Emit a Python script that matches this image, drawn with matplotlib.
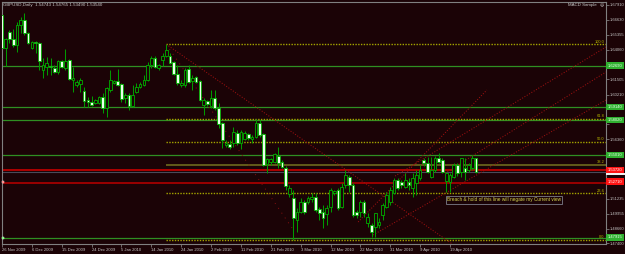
import matplotlib
matplotlib.use("Agg")
import matplotlib.pyplot as plt
from matplotlib.patches import Rectangle

# GBPUSD daily candles, 26 Nov 2009 .. end of Apr 2010
opens = [1.6705, 1.6421, 1.6559, 1.6499, 1.6447, 1.6619, 1.6662, 1.6550, 1.6421, 1.6473,
         1.6464, 1.6232, 1.6258, 1.6266, 1.6249, 1.6215, 1.6309, 1.6249, 1.6318, 1.6146,
         1.6103, 1.6112, 1.6051, 1.5974, 1.5957, 1.5948, 1.5948, 1.6000, 1.5905, 1.6060,
         1.6120, 1.6137, 1.6112, 1.5991, 1.6017, 1.5922, 1.6043, 1.6086, 1.6103, 1.6146,
         1.6275, 1.6335, 1.6249, 1.6318, 1.6352, 1.6352, 1.6301, 1.6198, 1.6103, 1.6103,
         1.6241, 1.6137, 1.6172, 1.6137, 1.5931, 1.5965, 1.5922, 1.5991, 1.5905, 1.5776,
         1.5587, 1.5596, 1.5604, 1.5690, 1.5604, 1.5639, 1.5682, 1.5639, 1.5656, 1.5776,
         1.5682, 1.5424, 1.5441, 1.5441, 1.5493, 1.5441, 1.5389, 1.5166, 1.5131, 1.4942,
         1.5011, 1.5097, 1.5097, 1.5123, 1.5140, 1.5037, 1.5011, 1.4994, 1.5054, 1.5174,
         1.5200, 1.5054, 1.5243, 1.5312, 1.5243, 1.5011, 1.5011, 1.5097, 1.4916, 1.4899,
         1.4882, 1.4899, 1.4985, 1.5054, 1.5097, 1.5174, 1.5286, 1.5269, 1.5226, 1.5269,
         1.5217, 1.5260, 1.5303, 1.5458, 1.5432, 1.5312, 1.5372, 1.5475, 1.5458, 1.5277,
         1.5269, 1.5312, 1.5415, 1.5355, 1.5389, 1.5372, 1.5389, 1.54743]
highs = [1.6722, 1.6507, 1.6576, 1.6585, 1.6645, 1.6688, 1.6722, 1.6559, 1.6481, 1.6481,
         1.6473, 1.6335, 1.6344, 1.6335, 1.6275, 1.6318, 1.6318, 1.6413, 1.6327, 1.6258,
         1.6146, 1.6163, 1.6086, 1.6000, 1.6009, 1.5983, 1.6009, 1.6034, 1.6086, 1.6232,
         1.6146, 1.6241, 1.6120, 1.6034, 1.6034, 1.6103, 1.6120, 1.6129, 1.6189, 1.6301,
         1.6352, 1.6352, 1.6284, 1.6378, 1.6453, 1.6378, 1.6309, 1.6275, 1.6146, 1.6249,
         1.6275, 1.6189, 1.6180, 1.6146, 1.5991, 1.5974, 1.6060, 1.6060, 1.5948, 1.5785,
         1.5630, 1.5630, 1.5742, 1.5716, 1.5716, 1.5707, 1.5690, 1.5673, 1.5811, 1.5802,
         1.5690, 1.5475, 1.5475, 1.5518, 1.5570, 1.5458, 1.5406, 1.5243, 1.5200, 1.5045,
         1.5131, 1.5114, 1.5148, 1.5174, 1.5174, 1.5054, 1.5071, 1.5071, 1.5217, 1.5200,
         1.5217, 1.5260, 1.5372, 1.5329, 1.5260, 1.5028, 1.5114, 1.5114, 1.5002, 1.4916,
         1.5002, 1.4959, 1.5088, 1.5183, 1.5226, 1.5303, 1.5303, 1.5286, 1.5346, 1.5303,
         1.5346, 1.5372, 1.5415, 1.5475, 1.5484, 1.5484, 1.5493, 1.5518, 1.5475, 1.5355,
         1.5346, 1.5432, 1.5432, 1.5475, 1.5475, 1.5432, 1.5501, 1.54765]
lows = [1.6404, 1.6266, 1.6464, 1.6430, 1.6387, 1.6550, 1.6533, 1.6456, 1.6413, 1.6378,
        1.6232, 1.6163, 1.6189, 1.6189, 1.6206, 1.6198, 1.6249, 1.6232, 1.6146, 1.6043,
        1.6086, 1.6043, 1.5914, 1.5914, 1.5922, 1.5940, 1.5940, 1.5862, 1.5828, 1.6043,
        1.6112, 1.6094, 1.5957, 1.5948, 1.5888, 1.5914, 1.6034, 1.6077, 1.6094, 1.6137,
        1.6249, 1.6249, 1.6232, 1.6266, 1.6344, 1.6284, 1.6189, 1.6103, 1.6086, 1.6086,
        1.6120, 1.6060, 1.6120, 1.5965, 1.5845, 1.5922, 1.5905, 1.5888, 1.5733, 1.5561,
        1.5570, 1.5553, 1.5570, 1.5587, 1.5553, 1.5630, 1.5630, 1.5604, 1.5647, 1.5656,
        1.5406, 1.5346, 1.5415, 1.5432, 1.5389, 1.5389, 1.5200, 1.5140, 1.4774, 1.4839,
        1.5002, 1.4994, 1.5080, 1.5097, 1.5011, 1.4942, 1.4873, 1.4899, 1.5011, 1.5157,
        1.5028, 1.5045, 1.5217, 1.5183, 1.4968, 1.4959, 1.4968, 1.4968, 1.4882, 1.4796,
        1.4796, 1.4873, 1.4942, 1.5045, 1.5071, 1.5166, 1.5200, 1.5217, 1.5217, 1.5200,
        1.5140, 1.5157, 1.5286, 1.5406, 1.5346, 1.5303, 1.5355, 1.5432, 1.5346, 1.5183,
        1.5183, 1.5303, 1.5320, 1.5312, 1.5286, 1.5355, 1.5372, 1.53490]
closes = [1.6421, 1.6499, 1.6499, 1.6447, 1.6619, 1.6662, 1.6550, 1.6464, 1.6473, 1.6464,
          1.6309, 1.6275, 1.6292, 1.6258, 1.6215, 1.6309, 1.6258, 1.6309, 1.6155, 1.6163,
          1.6129, 1.6146, 1.5965, 1.5957, 1.5931, 1.5974, 1.6000, 1.5905, 1.6077, 1.6146,
          1.6137, 1.6103, 1.5983, 1.6017, 1.5922, 1.6017, 1.6086, 1.6112, 1.6146, 1.6275,
          1.6335, 1.6258, 1.6275, 1.6352, 1.6404, 1.6292, 1.6198, 1.6120, 1.6120, 1.6232,
          1.6129, 1.6163, 1.6129, 1.5974, 1.5974, 1.5940, 1.5991, 1.5905, 1.5768, 1.5630,
          1.5604, 1.5570, 1.5699, 1.5604, 1.5699, 1.5690, 1.5647, 1.5656, 1.5776, 1.5673,
          1.5415, 1.5467, 1.5467, 1.5510, 1.5432, 1.5398, 1.5234, 1.5217, 1.4959, 1.5011,
          1.5097, 1.5011, 1.5131, 1.5140, 1.5028, 1.5002, 1.4959, 1.5045, 1.5200, 1.5191,
          1.5045, 1.5226, 1.5329, 1.5243, 1.4985, 1.4985, 1.5097, 1.5002, 1.4968, 1.4839,
          1.5002, 1.4925, 1.5071, 1.5157, 1.5200, 1.5286, 1.5217, 1.5243, 1.5286, 1.5243,
          1.5303, 1.5329, 1.5372, 1.5432, 1.5355, 1.5372, 1.5475, 1.5441, 1.5355, 1.5346,
          1.5329, 1.5415, 1.5346, 1.5475, 1.5355, 1.5415, 1.5475, 1.53540]

date_labels = ["26 Nov 2009", "6 Dec 2009", "15 Dec 2009", "24 Dec 2009", "5 Jan 2010",
               "14 Jan 2010", "24 Jan 2010", "2 Feb 2010", "11 Feb 2010", "21 Feb 2010",
               "3 Mar 2010", "12 Mar 2010", "22 Mar 2010", "31 Mar 2010", "9 Apr 2010",
               "19 Apr 2010"]
price_ticks = [1.67910, 1.66630, 1.65355, 1.64060, 1.62780, 1.61505, 1.60210, 1.58930,
               1.57650, 1.56360, 1.55080, 1.53800, 1.52520, 1.51235, 1.49955, 1.48660,
               1.47400]

# user drawn objects
green_levels = [1.6269, 1.5914, 1.5802, 1.5501, 1.47915]
red_levels = [1.5372, 1.5271, 1.5260]
fib_start_bar = 44
fib_high = 1.6453
fib_low = 1.4774
fib_levels = [0.0, 23.6, 38.2, 50.0, 61.8, 100.0]
# trendlines: (bar0, price0, bar1, price1)
trendlines = [
    (44, 1.6453, 120.6, 1.4736),
    (95.4, 1.4925, 129.9, 1.6060),
    (105.3, 1.5320, 161.8, 1.6430),
    (118.7, 1.5346, 161.8, 1.6215),
    (99.4, 1.4813, 161.8, 1.5974),
]
steep_line = (44, 1.6453, 77.7, 1.4873)
note_bar = 119.2
note_price = 1.5114
note_text = "Breach & hold of this line will negate my Current view"

BG = "#1b0306"
GREEN = "#00b000"
FONT = "Liberation Sans"

fig = plt.figure(figsize=(6.25, 2.54), dpi=100, facecolor=BG)
ax = fig.add_axes([2 / 625, 10 / 254, 604 / 625, 242 / 254], facecolor=BG)
ax.set_xlim(0.08, 161.8)
ax.set_ylim(1.47356, 1.68168)

# horizontal lines
for p in green_levels:
    ax.axhline(p, color="#2f8f22", lw=0.9, zorder=1)
ax.axhline(red_levels[0], color="#b00000", lw=1.4, zorder=1)
for p in red_levels[1:]:
    ax.axhline(p, color="#9a0000", lw=0.7, zorder=1)
ax.axhline(closes[-1], color="#4a4a58", lw=0.8, zorder=1)

# fibonacci retracement
x_right = ax.get_xlim()[1]
for lvl in fib_levels:
    p = fib_low + (fib_high - fib_low) * lvl / 100.0
    if lvl == 38.2:
        ax.hlines(p, fib_start_bar, x_right, color="#6e6a1e", lw=1.2, zorder=1)
    else:
        ax.hlines(p, fib_start_bar, x_right, color="#a4a400", lw=1.0,
                  linestyles=(0, (1, 1)), zorder=1)
    ax.text(x_right - 0.4, p + 0.0004, f"{lvl:.1f}", color="#b4b400", fontsize=2.9,
            family=FONT, ha="right", va="bottom", zorder=4)

# trendlines
for b0, p0, b1, p1 in trendlines:
    ax.plot([b0, b1], [p0, p1], color="#9a1010", lw=0.75, ls=(0, (1, 1.6)), zorder=1)
ax.plot([steep_line[0], steep_line[2]], [steep_line[1], steep_line[3]],
        color="#8a1010", lw=0.7, ls=(0, (1, 5)), zorder=1)

# candles
bars = list(range(len(opens)))
for i in bars:
    o, h, l, c = opens[i], highs[i], lows[i], closes[i]
    ax.vlines(i, l, h, color="#009a00", lw=0.75, zorder=2)
    fill = BG if c >= o else "#eaffea"
    body = max(abs(c - o), 0.00015)
    ax.bar(i, body, bottom=min(o, c), width=0.72, color=fill,
           edgecolor=GREEN, linewidth=0.6, zorder=3)

# line anchors at the left edge
ax.plot([0.15], [red_levels[1]], marker="s", ms=1.8, color="#ff5050", mec="white", mew=0.3,
        zorder=5, clip_on=False)
ax.plot([0.15], [green_levels[-1]], marker="s", ms=1.8, color="#40ff40", mec="white", mew=0.3,
        zorder=5, clip_on=False)

# note box
ax.text(note_bar, note_price, note_text, color="#d4d450", fontsize=3.4, family=FONT,
        ha="left", va="center", zorder=5,
        bbox=dict(boxstyle="square,pad=0.25", facecolor=BG, edgecolor="#7d7d8a", lw=0.6))

# axes styling
for side in ["left", "right", "top", "bottom"]:
    ax.spines[side].set_color("#808080")
    ax.spines[side].set_linewidth(0.8)

# price tags on the right cover the regular tick labels next to them
tagged = green_levels + red_levels[:2]
tick_text = []
for v in price_ticks:
    hidden = any(abs(v - t) < 0.0045 for t in tagged)
    tick_text.append("" if hidden else f"{v:.5f}")

ax.set_xticks(bars[::8])
ax.set_xticklabels(date_labels, ha="left", family=FONT)
ax.yaxis.tick_right()
ax.set_yticks(price_ticks)
ax.set_yticklabels(tick_text, family=FONT)
ax.tick_params(axis="x", colors="#c4c4c4", labelsize=2.95, length=2, width=0.5, pad=1.2)
ax.tick_params(axis="y", colors="#c4c4c4", labelsize=2.95, length=2, width=0.5, pad=1.0)
ax.tick_params(axis="both", color="#909090")

ytr = ax.get_yaxis_transform()
for p in green_levels:
    ax.text(1.003, p, f"{p:.5f}", transform=ytr, color="#eaffea", fontsize=2.95, family=FONT,
            ha="left", va="center", zorder=6,
            bbox=dict(boxstyle="square,pad=0.35", facecolor="#30b030", edgecolor="none"))
# bid tag: only a white sliver shows below the red tag
ax.add_patch(Rectangle((1.0, closes[-1] - 0.0022), 0.031, 0.0016, transform=ytr,
                       facecolor="#f0f0f0", edgecolor="none", clip_on=False, zorder=6))
for p in red_levels[:2]:
    ax.text(1.003, p, f"{p:.5f}", transform=ytr, color="white", fontsize=2.95, family=FONT,
            ha="left", va="center", zorder=7,
            bbox=dict(boxstyle="square,pad=0.35", facecolor="#ff1414", edgecolor="none"))

# header texts
fig.text(3 / 625, 1 - 5 / 254, "GBPUSD,Daily  1.54743 1.54765 1.53490 1.53540",
         color="#c8c8c8", fontsize=3.2, family=FONT, ha="left", va="center")
fig.text(568 / 625, 1 - 5 / 254, "MACD Sample", color="#c8c8c8", fontsize=3.2,
         family=FONT, ha="left", va="center")
fig.text(601.5 / 625, 1 - 5 / 254, "\u263a", color="#e0e0e0", fontsize=3.0,
         ha="center", va="center")

fig.savefig("out.png", dpi=100, facecolor=BG)
